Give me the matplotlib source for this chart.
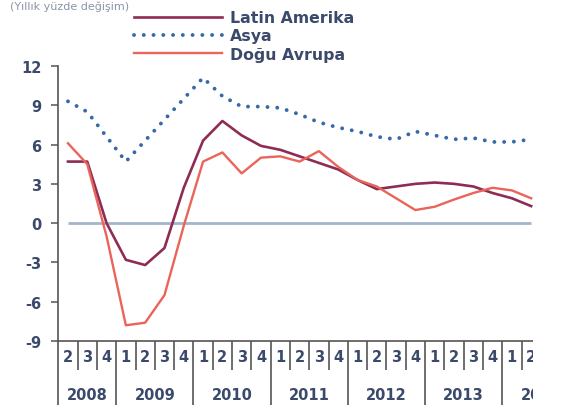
import matplotlib.pyplot as plt
import numpy as np
from matplotlib.patches import Rectangle
from matplotlib.ticker import FixedLocator, NullFormatter

quarters = ['2', '3', '4'] + ['1', '2', '3', '4'] * 5 + ['1', '2']
years = ['2008', '2009', '2010', '2011', '2012', '2013', '2014']
year_len = [3, 4, 4, 4, 4, 4, 4]

latin = [4.7, 4.7, 0.0, -2.8, -3.2, -1.9, 2.7, 6.3, 7.8, 6.7, 5.9, 5.6, 5.1,
         4.6, 4.1, 3.3, 2.6, 2.8, 3.0, 3.1, 3.0, 2.8, 2.3, 1.9, 1.3]
asya = [9.3, 8.5, 6.6, 4.7, 6.3, 7.9, 9.5, 11.1, 9.7, 8.9, 8.9, 8.8, 8.3,
        7.7, 7.3, 7.0, 6.6, 6.4, 7.0, 6.7, 6.4, 6.5, 6.2, 6.2, 6.4]
dogu = [6.1, 4.5, -1.0, -7.8, -7.6, -5.5, -0.2, 4.7, 5.4, 3.8, 5.0, 5.1, 4.7,
        5.5, 4.3, 3.3, 2.8, 1.9, 1.0, 1.25, 1.8, 2.3, 2.7, 2.5, 1.9]

txt_col = '#3b4a6b'
fam = 'DejaVu Sans'

fig = plt.figure(figsize=(5.65, 4.14), dpi=100)
ax = fig.add_axes([0.1032, 0.1739, 0.854, 0.6643])

x = np.arange(len(quarters))
ax.hlines(0, x[0], x[-1], color='#a3b6ca', lw=2, zorder=1)
ax.plot(x, asya, color='#3569a8', lw=2.8, linestyle=(0, (0.01, 2.5)),
        dash_capstyle='round', label='Asya', zorder=2)
ax.plot(x, latin, color='#8e2c55', lw=1.9, label='Latin Amerika', zorder=3)
ax.plot(x, dogu, color='#ea6459', lw=1.7, label='Doğu Avrupa', zorder=4)

ax.set_xlim(-0.5, len(quarters) - 0.5)
ax.set_ylim(-9, 12)
ax.set_yticks([-9, -6, -3, 0, 3, 6, 9, 12])
ax.set_yticklabels(['-9', '-6', '-3', '0', '3', '6', '9', '12'],
                   fontfamily=fam, fontweight='bold', fontsize=10.5, color=txt_col)
ax.tick_params(axis='y', length=5, width=1.1, color='#555555', pad=7)

for s in ['top', 'right']:
    ax.spines[s].set_visible(False)
for s in ['left', 'bottom']:
    ax.spines[s].set_color('#555555')
    ax.spines[s].set_linewidth(1.2)

# quarter / year dividers below the axis
bounds = np.cumsum([0] + year_len) - 0.5
all_b = np.arange(-0.5, len(quarters) + 0.5, 1.0)
minor_b = [b for b in all_b if b not in bounds]
ax.xaxis.set_major_locator(FixedLocator(bounds))
ax.xaxis.set_minor_locator(FixedLocator(minor_b))
ax.xaxis.set_major_formatter(NullFormatter())
ax.xaxis.set_minor_formatter(NullFormatter())
ax.tick_params(axis='x', which='major', length=46, width=1.2, color='#555555')
ax.tick_params(axis='x', which='minor', length=21, width=1.2, color='#555555')

xt = ax.get_xaxis_transform()
for i, q in enumerate(quarters):
    ax.text(i, -0.055, q, transform=xt, ha='center', va='center',
            fontfamily=fam, fontweight='bold', fontsize=10.5, color=txt_col)
for k, y in enumerate(years):
    c = bounds[k] + year_len[k] / 2
    ax.text(c, -0.193, y, transform=xt, ha='center', va='center',
            fontfamily=fam, fontweight='bold', fontsize=10.5, color=txt_col,
            clip_on=False)

h, l = ax.get_legend_handles_labels()
order = [1, 0, 2]
fig.legend([h[i] for i in order], [l[i] for i in order],
           loc='upper left', bbox_to_anchor=(128 / 565, 1 - 5 / 414),
           frameon=False, handlelength=5.6, handletextpad=0.5,
           labelspacing=0.2, borderaxespad=0,
           prop={'family': fam, 'weight': 'bold', 'size': 11.3},
           labelcolor=txt_col)

fig.text(10 / 565, 1 - 1 / 414, '(Yıllık yüzde değişim)', fontfamily=fam,
         fontsize=8, color='#8a93a6', va='top')

# the source picture is cut off on the right
fig.add_artist(Rectangle((533 / 565, 0), 1, 1, transform=fig.transFigure,
                         facecolor='white', edgecolor='none', zorder=20))

fig.savefig('out.png', dpi=100)
